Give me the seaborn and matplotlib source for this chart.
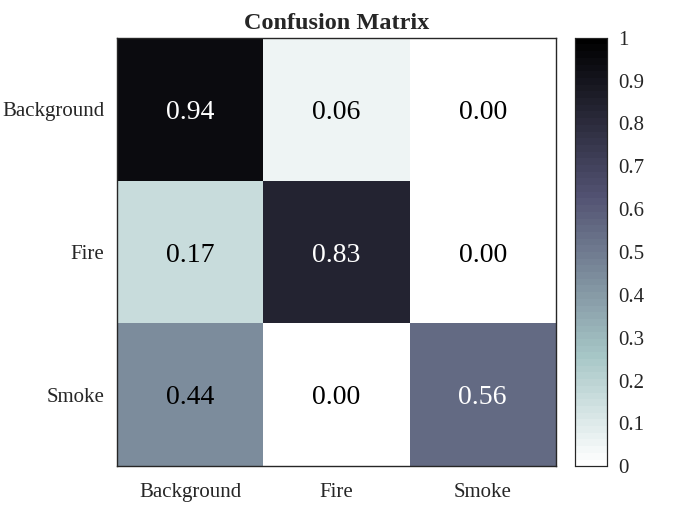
import numpy as np
import pandas as pd
import matplotlib
matplotlib.use("Agg")
import matplotlib.pyplot as plt
import seaborn as sns

classes = ["Background", "Fire", "Smoke"]
row_background = [0.94, 0.06, 0.00]
row_fire = [0.17, 0.83, 0.00]
row_smoke = [0.44, 0.00, 0.56]
cbar_ticks = [0, 0.1, 0.2, 0.3, 0.4, 0.5, 0.6, 0.7, 0.8, 0.9, 1]

cm = pd.DataFrame([row_background, row_fire, row_smoke], index=classes, columns=classes)

sns.set_style("white")
plt.rcParams['font.family'] = ['Liberation Serif', 'DejaVu Serif']

fig = plt.figure(figsize=(7, 5.25), dpi=100)
ax = fig.add_axes([0.167, 0.112, 0.627, 0.816])
cax = fig.add_axes([0.822, 0.112, 0.045, 0.816])

# MATLAB-like 64 level bone colormap, reversed
cmap = plt.get_cmap('bone_r', 64)

sns.heatmap(cm, ax=ax, cbar_ax=cax, cmap=cmap, vmin=0, vmax=1,
            annot=False, square=False, linewidths=0)

# annotations, white on dark cells
for i in range(len(classes)):
    for j in range(len(classes)):
        v = cm.iloc[i, j]
        ax.text(j + 0.5, i + 0.5, f"{v:.2f}", ha='center', va='center_baseline',
                fontsize=20, color='white' if v > 0.5 else 'black')

ax.set_title("Confusion Matrix", fontsize=17.5, fontweight='bold', pad=6)
ax.tick_params(axis='both', length=0, labelsize=15, colors='#262626')
ax.tick_params(axis='x', pad=12)
ax.tick_params(axis='y', pad=9)
ax.set_yticklabels(classes, rotation=0, va='center_baseline')
ax.set_xticklabels(classes, rotation=0)
for s in ax.spines.values():
    s.set_visible(True)
    s.set_color('#262626')
    s.set_linewidth(1)

cax.set_yticks(cbar_ticks)
cax.set_yticklabels([f"{t:g}" for t in cbar_ticks])
cax.tick_params(axis='y', direction='in', length=4, width=0.6, labelsize=15,
                colors='#262626', pad=8)
for s in cax.spines.values():
    s.set_visible(True)
    s.set_color('#262626')
    s.set_linewidth(0.8)

fig.savefig("out.png", dpi=100)
